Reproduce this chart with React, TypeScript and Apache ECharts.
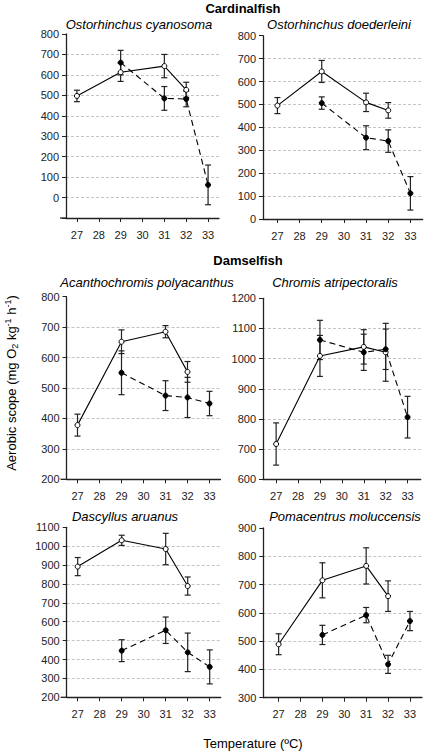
import React, { useEffect, useRef } from "react";
import * as echarts from "echarts";

// ---- Data ----
const tempTicks = [27, 28, 29, 30, 31, 32, 33];

const groupTitles = ["Cardinalfish", "Damselfish"];
const speciesNames = [
  "Ostorhinchus cyanosoma",
  "Ostorhinchus doederleini",
  "Acanthochromis polyacanthus",
  "Chromis atripectoralis",
  "Dascyllus aruanus",
  "Pomacentrus moluccensis",
];

// open circles (solid line)
const openTemps = [27, 29, 31, 32];
// filled circles (dashed line)
const filledTemps = [29, 31, 32, 33];

const cyanosomaOpen = [497, 613, 643, 527];
const cyanosomaOpenErr = [28, 45, 57, 37];
const cyanosomaFilled = [660, 485, 482, 62];
const cyanosomaFilledErr = [60, 58, 38, 97];

const doederleiniOpen = [495, 644, 509, 474];
const doederleiniOpenErr = [35, 48, 40, 34];
const doederleiniFilled = [506, 355, 340, 112];
const doederleiniFilledErr = [27, 52, 49, 73];

const polyacanthusOpen = [378, 652, 685, 553];
const polyacanthusOpenErr = [36, 39, 20, 34];
const polyacanthusFilled = [550, 475, 469, 449];
const polyacanthusFilledErr = [72, 49, 66, 40];

const atripectoralisOpen = [717, 1009, 1039, 1021];
const atripectoralisOpenErr = [70, 68, 57, 96];
const atripectoralisFilled = [1062, 1021, 1031, 806];
const atripectoralisFilledErr = [65, 60, 67, 69];

const aruanusOpen = [892, 1031, 985, 789];
const aruanusOpenErr = [48, 27, 83, 48];
const aruanusFilled = [447, 555, 438, 361];
const aruanusFilledErr = [58, 70, 102, 90];

const moluccensisOpen = [489, 715, 766, 659];
const moluccensisOpenErr = [37, 62, 64, 54];
const moluccensisFilled = [522, 592, 418, 571];
const moluccensisFilledErr = [34, 27, 32, 34];

const yRanges = [
  [-100, 800],
  [0, 800],
  [200, 800],
  [600, 1200],
  [200, 1100],
  [300, 900],
];

const panelSeries = [
  [cyanosomaOpen, cyanosomaOpenErr, cyanosomaFilled, cyanosomaFilledErr],
  [doederleiniOpen, doederleiniOpenErr, doederleiniFilled, doederleiniFilledErr],
  [polyacanthusOpen, polyacanthusOpenErr, polyacanthusFilled, polyacanthusFilledErr],
  [atripectoralisOpen, atripectoralisOpenErr, atripectoralisFilled, atripectoralisFilledErr],
  [aruanusOpen, aruanusOpenErr, aruanusFilled, aruanusFilledErr],
  [moluccensisOpen, moluccensisOpenErr, moluccensisFilled, moluccensisFilledErr],
];

// ---- Layout ----
const gridLayout = [
  { left: 66, top: 34, width: 153, height: 184, xmin: 26.5, xmax: 33.5 },
  { left: 263, top: 35.7, width: 159.6, height: 183.3, xmin: 26.35, xmax: 33.55 },
  { left: 66.5, top: 296.7, width: 154, height: 182.6, xmin: 26.5, xmax: 33.5 },
  { left: 263, top: 298.3, width: 157.7, height: 181, xmin: 26.4, xmax: 33.6 },
  { left: 66.7, top: 527.3, width: 154, height: 170, xmin: 26.5, xmax: 33.5 },
  { left: 263.3, top: 528, width: 158.7, height: 169.7, xmin: 26.3, xmax: 33.55 },
];
const titlePos = [
  [139, 24],
  [339, 24],
  [147, 282],
  [335, 282],
  [125, 516],
  [345, 516],
];
// left panels: the x-axis line runs a few px past the y-axis
const leftAxisStubs = [0, 2, 4];

const FONT = "'Liberation Sans', Arial, sans-serif";

function errorSeries(idx: number, xs: number[], vals: number[], errs: number[]) {
  return {
    type: "custom",
    xAxisIndex: idx,
    yAxisIndex: idx,
    z: 1,
    data: xs.map((x, i) => [x, vals[i] - errs[i], vals[i] + errs[i]]),
    encode: { x: 0, y: [1, 2] },
    renderItem: (params: any, api: any) => {
      const x = api.value(0);
      const lo = api.coord([x, api.value(1)]);
      const hi = api.coord([x, api.value(2)]);
      const w = 3;
      const st = { stroke: "#222", lineWidth: 1.2 };
      return {
        type: "group",
        children: [
          { type: "line", shape: { x1: lo[0], y1: lo[1], x2: hi[0], y2: hi[1] }, style: st },
          { type: "line", shape: { x1: lo[0] - w, y1: lo[1], x2: lo[0] + w, y2: lo[1] }, style: st },
          { type: "line", shape: { x1: hi[0] - w, y1: hi[1], x2: hi[0] + w, y2: hi[1] }, style: st },
        ],
      };
    },
  };
}

export default function App() {
  const ref = useRef<HTMLDivElement>(null);
  useEffect(() => {
    if (!ref.current) return;
    const chart = echarts.init(ref.current, null, { renderer: "svg" });

    const grid = gridLayout.map((g) => ({
      left: g.left,
      top: g.top,
      width: g.width,
      height: g.height,
      containLabel: false,
    }));

    const xAxis = gridLayout.map((g, i) => ({
      type: "value",
      gridIndex: i,
      min: g.xmin,
      max: g.xmax,
      axisLine: { show: true, onZero: false, lineStyle: { color: "#222", width: 1.3 } },
      axisTick: { show: true, length: 4, customValues: tempTicks, lineStyle: { color: "#222" } },
      axisLabel: { show: false },
      splitLine: { show: false },
    }));

    const yAxis = yRanges.map((r, i) => ({
      type: "value",
      gridIndex: i,
      min: r[0],
      max: r[1],
      interval: 100,
      axisLine: { show: true, onZero: false, lineStyle: { color: "#222", width: 1.3 } },
      axisTick: { show: true, length: 4, lineStyle: { color: "#222" } },
      axisLabel: {
        fontSize: 11,
        color: "#222",
        fontFamily: FONT,
        margin: 7,
        formatter: (v: number) => (v < 0 ? "" : String(v)),
      },
      splitLine: {
        show: true,
        showMinLine: false,
        showMaxLine: false,
        lineStyle: { color: "#c4c4c4", type: [3, 2], width: 1 },
      },
    }));

    const series: any[] = [];
    panelSeries.forEach((p, i) => {
      const [oV, oE, fV, fE] = p;
      series.push(errorSeries(i, openTemps, oV, oE));
      series.push(errorSeries(i, filledTemps, fV, fE));
      series.push({
        type: "line",
        xAxisIndex: i,
        yAxisIndex: i,
        z: 3,
        data: openTemps.map((t, k) => [t, oV[k]]),
        symbol: "circle",
        symbolSize: 5,
        lineStyle: { color: "#000", width: 1.1, type: "solid" },
        itemStyle: { color: "#fff", borderColor: "#000", borderWidth: 1 },
      });
      series.push({
        type: "line",
        xAxisIndex: i,
        yAxisIndex: i,
        z: 3,
        data: filledTemps.map((t, k) => [t, fV[k]]),
        symbol: "circle",
        symbolSize: 5,
        lineStyle: { color: "#000", width: 1.1, type: [6, 4] },
        itemStyle: { color: "#000", borderColor: "#000", borderWidth: 1 },
      });
      // x tick labels, placed through the panel's own axes
      series.push({
        type: "custom",
        xAxisIndex: i,
        yAxisIndex: i,
        z: 4,
        silent: true,
        clip: false,
        data: tempTicks.map((t) => [t, yRanges[i][0]]),
        encode: { x: 0, y: 1 },
        renderItem: (params: any, api: any) => {
          const pt = api.coord([api.value(0), api.value(1)]);
          return {
            type: "text",
            x: pt[0],
            y: pt[1] + 11,
            style: {
              text: String(api.value(0)),
              font: `11px ${FONT}`,
              fill: "#222",
              textAlign: "center",
              textVerticalAlign: "top",
            },
          };
        },
      });
    });

    const graphic: any[] = [
      ...leftAxisStubs.map((i) => {
        const g = gridLayout[i];
        const yb = g.top + g.height;
        return {
          type: "line",
          shape: { x1: g.left - 6, y1: yb, x2: g.left, y2: yb },
          style: { stroke: "#222", lineWidth: 1.3 },
        };
      }),
      {
        type: "text",
        x: 243,
        y: 8,
        style: {
          text: groupTitles[0],
          font: `bold 13px ${FONT}`,
          fill: "#000",
          textAlign: "center",
          textVerticalAlign: "middle",
        },
      },
      {
        type: "text",
        x: 248,
        y: 260,
        style: {
          text: groupTitles[1],
          font: `bold 13px ${FONT}`,
          fill: "#000",
          textAlign: "center",
          textVerticalAlign: "middle",
        },
      },
      ...speciesNames.map((n, i) => ({
        type: "text",
        x: titlePos[i][0],
        y: titlePos[i][1],
        style: {
          text: n,
          font: `italic 13px ${FONT}`,
          fill: "#000",
          textAlign: "center",
          textVerticalAlign: "middle",
        },
      })),
      {
        type: "text",
        x: 253,
        y: 743,
        style: {
          text: "Temperature (ºC)",
          font: `13px ${FONT}`,
          fill: "#000",
          textAlign: "center",
          textVerticalAlign: "middle",
        },
      },
      {
        type: "text",
        x: 11,
        y: 383,
        rotation: Math.PI / 2,
        style: {
          text: "{n|Aerobic scope (mg O}{sub|2}{n| kg}{sup|-1}{n| h}{sup|-1}{n|)}",
          fill: "#000",
          align: "center",
          verticalAlign: "middle",
          rich: {
            n: { fontSize: 13, fontFamily: FONT, lineHeight: 18, verticalAlign: "middle", fill: "#000" },
            sub: { fontSize: 9, fontFamily: FONT, lineHeight: 18, verticalAlign: "bottom", fill: "#000", padding: [0, 0, 1, 0] },
            sup: { fontSize: 9, fontFamily: FONT, lineHeight: 18, verticalAlign: "top", fill: "#000", padding: [1, 0, 0, 0] },
          },
        },
      },
    ];

    chart.setOption({
      animation: false,
      backgroundColor: "#fff",
      grid,
      xAxis,
      yAxis,
      series,
      graphic,
    });
    return () => chart.dispose();
  }, []);

  return (
    <div
      ref={ref}
      style={{ position: "fixed", left: 0, top: 0, width: 425, height: 753 }}
    />
  );
}
